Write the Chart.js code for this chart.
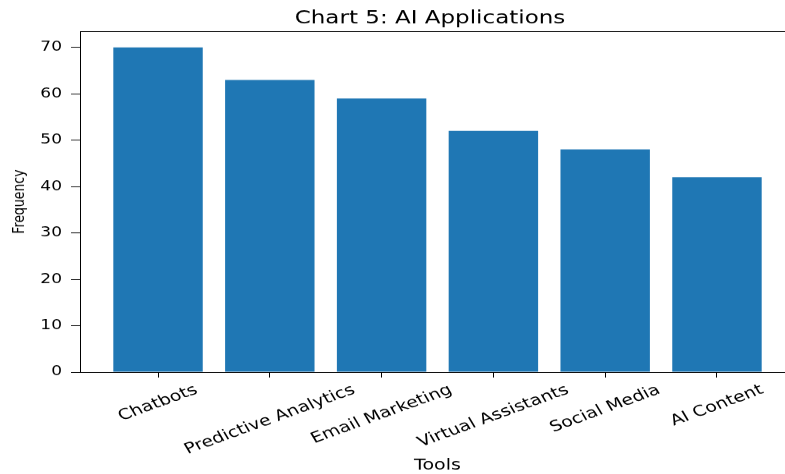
<!DOCTYPE html>
<html>
<head>
<meta charset="utf-8">
<script src="https://cdn.jsdelivr.net/npm/chart.js@4.4.1/dist/chart.umd.min.js"></script>
<style>
  html, body { margin: 0; padding: 0; background: #fff; }
  #frame { width: 785px; height: 474px; overflow: hidden; position: relative; }
  /* the reference is a matplotlib image squashed vertically, so draw tall and squash */
  #squash { width: 800px; height: 608px; transform: scale(1, 0.78); transform-origin: 0 0; }
</style>
</head>
<body>
<div id="frame"><div id="squash"><canvas id="chart"></canvas></div></div>
<script>
const TITLE = "Chart 5: AI Applications";
const TOOLS = ["Chatbots", "Predictive Analytics", "Email Marketing", "Virtual Assistants", "Social Media", "AI Content"];
const FREQUENCY = [70, 63, 59, 52, 48, 42];
const Y_TICKS = [0, 10, 20, 30, 40, 50, 60, 70];
const Y_MAX = 73.5;
const X_MARGIN = 0.698;
const LABEL_ROTATION = 25;
const LABEL_SIZE = 19;

Chart.defaults.font.family = '"DejaVu Sans", sans-serif';
Chart.defaults.color = "#000";

const labelPlugin = {
  id: "mplLabels",
  afterDraw(chart) {
    const { ctx, chartArea, scales: { x } } = chart;
    ctx.save();
    ctx.fillStyle = "#000";
    ctx.textAlign = "center";
    ctx.textBaseline = "middle";

    ctx.font = '23px "DejaVu Sans"';
    ctx.fillText(TITLE, 430, 24.5);

    // rotated tick labels, centred on the tick like matplotlib
    ctx.font = LABEL_SIZE + 'px "DejaVu Sans"';
    const ang = LABEL_ROTATION * Math.PI / 180;
    TOOLS.forEach((name, i) => {
      const w = ctx.measureText(name).width;
      const h = LABEL_SIZE * 1.16;
      const boxH = w * Math.sin(ang) + h * Math.cos(ang);
      const cx = x.getPixelForValue(i);
      const cy = chartArea.bottom + 7 + 5 + boxH / 2;
      ctx.save();
      ctx.translate(cx, cy);
      ctx.rotate(-ang);
      ctx.fillText(name, 0, 0);
      ctx.restore();
    });
    ctx.restore();
  }
};

new Chart(document.getElementById("chart"), {
  type: "bar",
  data: {
    datasets: [{
      data: FREQUENCY.map((v, i) => ({ x: i, y: v })),
      backgroundColor: "#1f77b4",
      borderWidth: 0,
      barPercentage: 0.8,
      categoryPercentage: 1.0,
      xAxisID: "x",
      yAxisID: "y"
    }]
  },
  options: {
    responsive: true,
    maintainAspectRatio: false,
    animation: false,
    devicePixelRatio: 1,
    layout: { padding: { top: 40, left: 0, right: 5, bottom: 0 } },
    plugins: {
      legend: { display: false },
      title: { display: false },
      tooltip: { enabled: false }
    },
    scales: {
      x: {
        type: "linear",
        position: "bottom",
        offset: false,
        min: -X_MARGIN,
        max: TOOLS.length - 1 + X_MARGIN,
        afterBuildTicks: s => { s.ticks = TOOLS.map((_, i) => ({ value: i })); },
        afterFit: s => { s.height = 131; },
        ticks: { display: false },
        grid: { offset: false, drawOnChartArea: false, drawTicks: true, tickLength: 7, tickColor: "#000", lineWidth: 1 },
        border: { display: true, color: "#000", width: 1 },
        title: { display: true, text: "Tools", font: { size: 19 }, padding: { top: 0, bottom: 0 } }
      },
      x2: {
        type: "linear",
        position: "top",
        ticks: { display: false },
        grid: { display: false, drawTicks: false },
        border: { display: true, color: "#000", width: 1 }
      },
      y: {
        min: 0,
        max: Y_MAX,
        afterBuildTicks: s => { s.ticks = Y_TICKS.map(v => ({ value: v })); },
        afterFit: s => { s.width = 80; },
        ticks: { font: { size: 17 }, padding: 9, color: "#000" },
        grid: { drawOnChartArea: false, drawTicks: true, tickLength: 9, tickColor: "#000", lineWidth: 1 },
        border: { display: true, color: "#000", width: 1 },
        title: { display: true, text: "Frequency", font: { size: 16 }, padding: { top: 10, bottom: 0 } }
      }
    }
  },
  plugins: [labelPlugin]
});
</script>
</body>
</html>
